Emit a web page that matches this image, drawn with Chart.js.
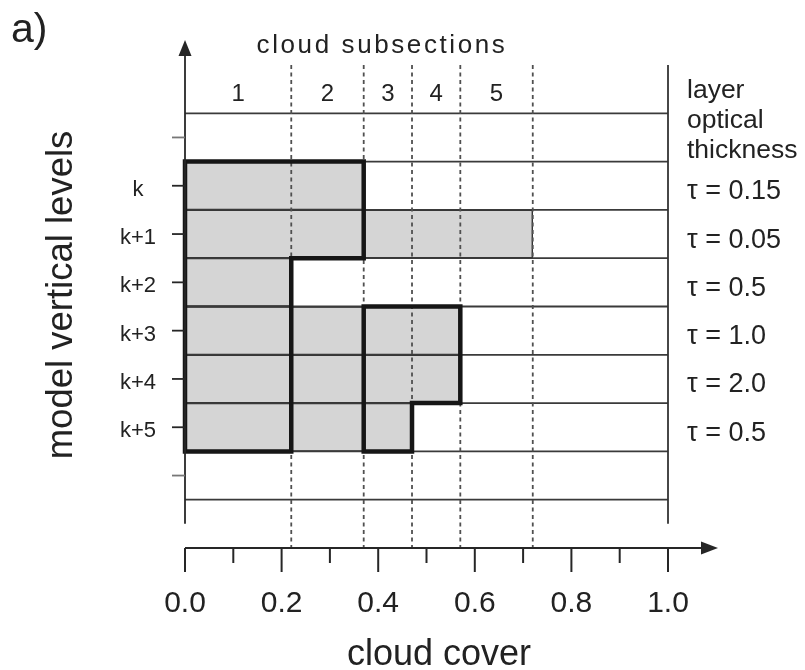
<!DOCTYPE html>
<html><head><meta charset="utf-8">
<script src="https://cdn.jsdelivr.net/npm/chart.js@4/dist/chart.umd.min.js"></script>
<style>html,body{margin:0;padding:0;background:#fff;}#wrap{width:805px;height:670px;}</style>
</head><body><div id="wrap"><canvas id="c" width="805" height="670"></canvas></div>
<script>
// ---- data ----
const levels = ['k', 'k+1', 'k+2', 'k+3', 'k+4', 'k+5'];
const cloudCover = [0.37, 0.72, 0.22, 0.57, 0.57, 0.47];
const opticalThickness = ['0.15', '0.05', '0.5', '1.0', '2.0', '0.5'];
const subsectionEdges = [0, 0.22, 0.37, 0.47, 0.57, 0.72];
const subsectionLabels = ['1', '2', '3', '4', '5'];
const xMinorTicks = [0.1, 0.3, 0.5, 0.7, 0.9];
const xMajorTicks = [0.0, 0.2, 0.4, 0.6, 0.8, 1.0];
const xTickLabels = ['0.0', '0.2', '0.4', '0.6', '0.8', '1.0'];
// maximum-overlap cloud groups (outlined)
const groupALevels = ['k', 'k+1', 'k+2', 'k+3', 'k+4', 'k+5'];
const groupALeft = 0.0;
const groupARight = [0.37, 0.37, 0.22, 0.22, 0.22, 0.22];
const groupBLevels = ['k+3', 'k+4', 'k+5'];
const groupBLeft = 0.37;
const groupBRight = [0.57, 0.57, 0.47];
// rows of the grid: one spare layer above and below the cloud levels
const rows = ['header', 'above', ...levels, 'below', 'base'];

const FONT = '"Liberation Sans", Arial, Helvetica, sans-serif';
const INK = '#262626';

const barData = rows.map(r => {
  const i = levels.indexOf(r);
  return i >= 0 ? [0, cloudCover[i]] : null;
});

const drawPlugin = {
  id: 'schematic',
  afterDatasetsDraw(chart) {
    const ctx = chart.ctx;
    const xs = chart.scales.x, ys = chart.scales.y;
    const area = chart.chartArea;
    const X = v => xs.getPixelForValue(v);
    const Yc = i => ys.getPixelForValue(i);
    const half = (Yc(1) - Yc(0)) / 2;
    const top = i => Yc(i) - half;
    const bot = i => Yc(i) + half;
    ctx.save();

    // layer boundary lines
    ctx.strokeStyle = '#3a3a3a';
    ctx.lineWidth = 1.8;
    for (let b = 1; b < rows.length; b++) {
      const y = top(b);
      ctx.beginPath(); ctx.moveTo(X(0), y); ctx.lineTo(X(1), y); ctx.stroke();
    }

    // subsection dashed lines
    ctx.setLineDash([4, 3.5]);
    ctx.lineWidth = 1.8;
    ctx.strokeStyle = '#505050';
    subsectionEdges.slice(1).forEach(e => {
      ctx.beginPath(); ctx.moveTo(X(e), area.top); ctx.lineTo(X(e), area.bottom); ctx.stroke();
    });
    ctx.setLineDash([]);

    // thick outlines of overlap groups
    function outline(lv, left, right) {
      const idx = lv.map(l => rows.indexOf(l));
      ctx.beginPath();
      ctx.moveTo(X(left), top(idx[0]));
      idx.forEach((ri, k) => {
        ctx.lineTo(X(right[k]), top(ri));
        ctx.lineTo(X(right[k]), bot(ri));
      });
      ctx.lineTo(X(left), bot(idx[idx.length - 1]));
      ctx.closePath();
      ctx.stroke();
    }
    ctx.strokeStyle = '#161616';
    ctx.lineWidth = 4.5;
    ctx.lineJoin = 'miter';
    outline(groupALevels, groupALeft, groupARight);
    outline(groupBLevels, groupBLeft, groupBRight);

    // right frame line
    ctx.strokeStyle = '#333';
    ctx.lineWidth = 1.8;
    ctx.beginPath(); ctx.moveTo(X(1), area.top); ctx.lineTo(X(1), Yc(rows.length - 1)); ctx.stroke();

    // y axis with arrow
    ctx.strokeStyle = INK; ctx.fillStyle = INK;
    ctx.lineWidth = 1.8;
    ctx.beginPath(); ctx.moveTo(X(0), Yc(rows.length - 1)); ctx.lineTo(X(0), 54); ctx.stroke();
    ctx.beginPath(); ctx.moveTo(X(0), 40); ctx.lineTo(X(0) - 6.5, 56); ctx.lineTo(X(0) + 6.5, 56); ctx.closePath(); ctx.fill();
    // y ticks
    for (let i = 1; i < rows.length - 1; i++) {
      ctx.strokeStyle = (i === 1 || i === rows.length - 2) ? '#777' : INK;
      ctx.beginPath(); ctx.moveTo(X(0) - 13, Yc(i)); ctx.lineTo(X(0), Yc(i)); ctx.stroke();
    }

    // x axis with arrow
    const ya = area.bottom;
    ctx.strokeStyle = INK;
    ctx.beginPath(); ctx.moveTo(X(0), ya); ctx.lineTo(703, ya); ctx.stroke();
    ctx.beginPath(); ctx.moveTo(718, ya); ctx.lineTo(701, ya - 6.5); ctx.lineTo(701, ya + 6.5); ctx.closePath(); ctx.fill();
    ctx.lineWidth = 2;
    xMajorTicks.forEach(v => { ctx.beginPath(); ctx.moveTo(X(v), ya); ctx.lineTo(X(v), ya + 24); ctx.stroke(); });
    xMinorTicks.forEach(v => { ctx.beginPath(); ctx.moveTo(X(v), ya); ctx.lineTo(X(v), ya + 15); ctx.stroke(); });

    // ---- texts ----
    ctx.fillStyle = '#222';
    ctx.textBaseline = 'middle';
    ctx.textAlign = 'center';
    ctx.font = '30px ' + FONT;
    xMajorTicks.forEach((v, i) => ctx.fillText(xTickLabels[i], X(v), 604));

    ctx.font = '24px ' + FONT;
    subsectionLabels.forEach((s, i) => {
      ctx.fillText(s, X((subsectionEdges[i] + subsectionEdges[i + 1]) / 2), 94);
    });

    ctx.font = '22px ' + FONT;
    levels.forEach((l, i) => ctx.fillText(l, 138, Yc(rows.indexOf(l)) + 4));

    ctx.textAlign = 'left';
    ctx.font = '27px ' + FONT;
    levels.forEach((l, i) => ctx.fillText('\u03C4 = ' + opticalThickness[i], 687, Yc(rows.indexOf(l)) + 6));

    ctx.textBaseline = 'alphabetic';
    ctx.font = '26.5px ' + FONT;
    ['layer', 'optical', 'thickness'].forEach((t, i) => ctx.fillText(t, 687, 98 + i * 30));

    ctx.font = '41px ' + FONT;
    ctx.fillText('a)', 11, 42);

    ctx.textAlign = 'center';
    ctx.font = '36px ' + FONT;
    ctx.fillText('cloud cover', 439, 665);

    ctx.font = '26px ' + FONT;
    try { ctx.letterSpacing = '2.6px'; } catch (e) {}
    ctx.fillText('cloud subsections', 382, 53);
    try { ctx.letterSpacing = '0px'; } catch (e) {}

    ctx.save();
    ctx.translate(72, 295);
    ctx.rotate(-Math.PI / 2);
    ctx.font = '36.5px ' + FONT;
    ctx.fillText('model vertical levels', 0, 0);
    ctx.restore();

    ctx.restore();
  }
};

new Chart(document.getElementById('c'), {
  type: 'bar',
  data: {
    labels: rows,
    datasets: [{
      data: barData,
      backgroundColor: '#d5d5d5',
      borderColor: '#333',
      borderWidth: 1.5,
      borderSkipped: 'start',
      barPercentage: 1.0,
      categoryPercentage: 1.0
    }]
  },
  options: {
    indexAxis: 'y',
    responsive: false,
    devicePixelRatio: 1,
    animation: false,
    layout: { padding: { left: 185, right: 137, top: 65, bottom: 122 } },
    plugins: { legend: { display: false }, tooltip: { enabled: false } },
    scales: {
      x: { type: 'linear', min: 0, max: 1, display: false },
      y: { type: 'category', display: false, offset: true }
    }
  },
  plugins: [drawPlugin]
});
</script>
</body></html>
